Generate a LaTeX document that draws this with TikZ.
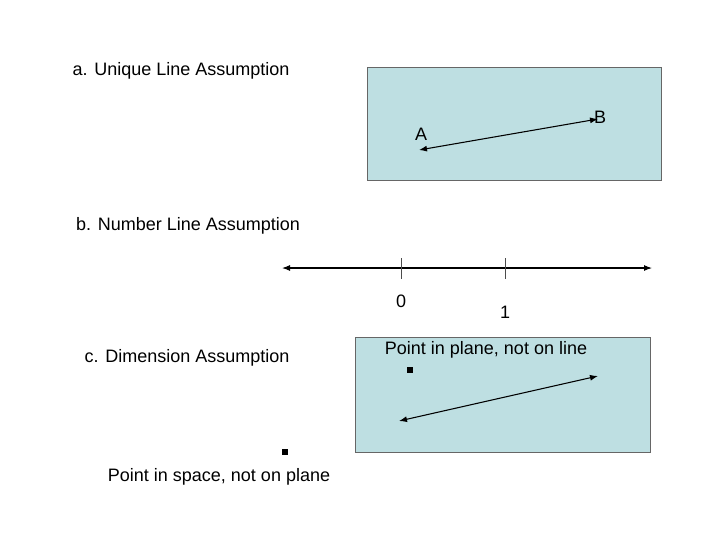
\documentclass[tikz,border=0pt]{standalone}
\usepackage{fontspec}
\setmainfont{Liberation Sans}
\usetikzlibrary{arrows.meta}
\definecolor{pane}{HTML}{BEDFE2}
\tikzset{panel/.style={fill=pane,draw=gray!80!black,line width=0.6pt},
 lbl/.style={font=\fontsize{13.5}{15}\selectfont,inner sep=0pt},
 dbl/.style={{Latex[length=6pt,width=4.5pt]}-{Latex[length=6pt,width=4.5pt]},line width=0.8pt},
 dotp/.style={rectangle,fill=black,inner sep=0pt,minimum size=4pt}}
\begin{document}
\begin{tikzpicture}[x=0.75pt,y=-0.75pt]
\useasboundingbox (0,0) rectangle (720,540);
\node[lbl] (ta) at (181,71) {a. Unique Line Assumption};
\node[panel,minimum width=294*0.75pt,minimum height=113*0.75pt,inner sep=0pt] (r1) at (514,123.5) {};
\coordinate (pa) at (419,150);
\coordinate (pb) at (598,119);
\draw[dbl] (pa) -- (pb);
\node[lbl] (la) at (421,134) {A};
\node[lbl] (lb) at (600,117) {B};
\node[lbl] (tb) at (188,226) {b. Number Line Assumption};
\coordinate (n1) at (282,268);
\coordinate (n2) at (652,268);
\draw[dbl] (n1) -- (n2);
\coordinate (t0a) at (401,258); \coordinate (t0b) at (401,279);
\coordinate (t1a) at (505,258); \coordinate (t1b) at (505,279);
\draw[gray!60!black] (t0a) -- (t0b);
\draw[gray!60!black] (t1a) -- (t1b);
\node[lbl] (l0) at (401,301) {0};
\node[lbl] (l1) at (505,312) {1};
\node[lbl] (tc) at (187,358) {c. Dimension Assumption};
\node[panel,minimum width=295*0.75pt,minimum height=115*0.75pt,inner sep=0pt] (r2) at (502.5,394.5) {};
\node[lbl] (lp) at (486,350) {Point in plane, not on line};
\node[dotp] (d1) at (410,370) {};
\coordinate (q1) at (399,421);
\coordinate (q2) at (598,376);
\draw[dbl] (q1) -- (q2);
\node[dotp] (d2) at (285,452) {};
\node[lbl] (ls) at (219,477) {Point in space, not on plane};
\end{tikzpicture}
\end{document}
